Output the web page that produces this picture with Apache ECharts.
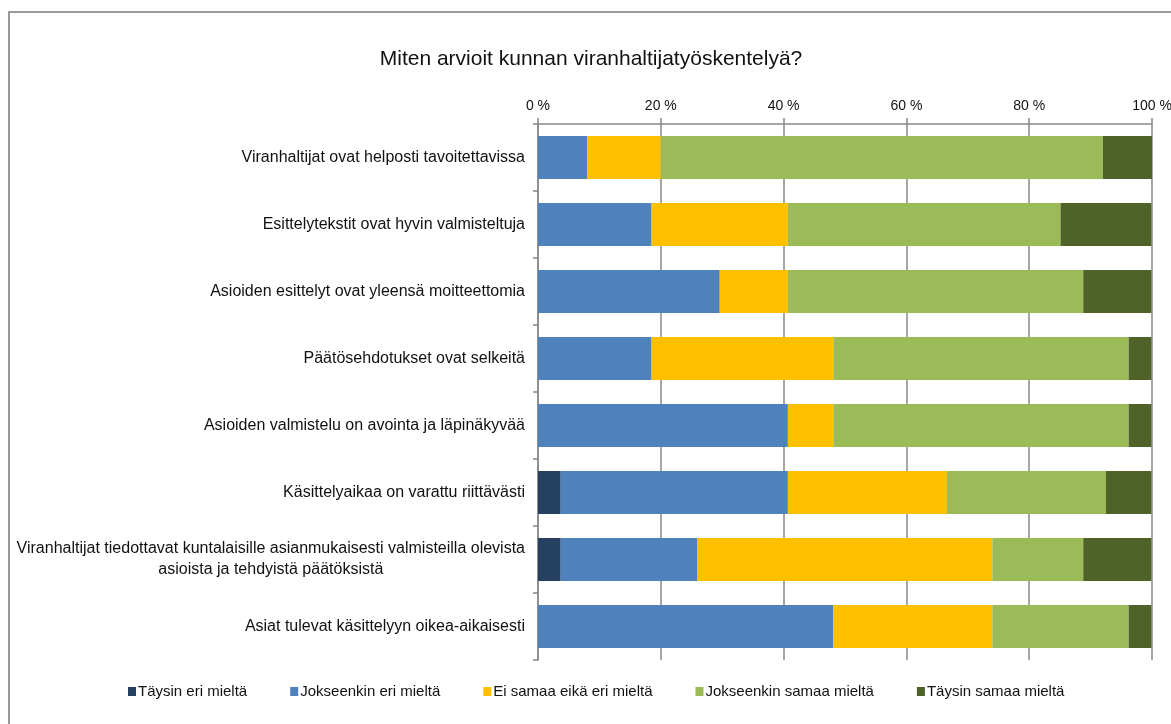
<!DOCTYPE html>
<html>
<head>
<meta charset="utf-8">
<script src="https://cdn.jsdelivr.net/npm/echarts@6/dist/echarts.min.js"></script>
<style>
  html, body { margin: 0; padding: 0; background: #fff; overflow: hidden; width: 1171px; height: 724px; }
  #frame {
    position: absolute; left: 8px; top: 11px; right: -20px; bottom: -20px;
    border: 2px solid #9a9a9a; box-sizing: border-box;
  }
  #chart { position: absolute; left: 0; top: 0; width: 1171px; height: 724px; }
</style>
</head>
<body>
<div id="frame"></div>
<div id="chart"></div>
<script>
// kysymykset (ylhäältä alas)
const categories = [
  "Viranhaltijat ovat helposti tavoitettavissa",
  "Esittelytekstit ovat hyvin valmisteltuja",
  "Asioiden esittelyt ovat yleensä moitteettomia",
  "Päätösehdotukset ovat selkeitä",
  "Asioiden valmistelu on avointa ja läpinäkyvää",
  "Käsittelyaikaa on varattu riittävästi",
  "Viranhaltijat tiedottavat kuntalaisille asianmukaisesti valmisteilla olevista\nasioista ja tehdyistä päätöksistä",
  "Asiat tulevat käsittelyyn oikea-aikaisesti"
];
const seriesNames = [
  "Täysin eri mieltä",
  "Jokseenkin eri mieltä",
  "Ei samaa eikä eri mieltä",
  "Jokseenkin samaa mieltä",
  "Täysin samaa mieltä"
];
// prosenttiosuudet
const taysinEri     = [0, 0, 0, 0, 0, 3.7, 3.7, 0];
const jokseenkinEri = [8, 18.5, 29.6, 18.5, 40.7, 37.0, 22.2, 48.1];
const eiSamaaEiEri  = [12, 22.2, 11.1, 29.6, 7.4, 25.9, 48.1, 25.9];
const jokseenkinSam = [72, 44.4, 48.1, 48.1, 48.1, 25.9, 14.8, 22.2];
const taysinSamaa   = [8, 14.8, 11.1, 3.7, 3.7, 7.4, 11.1, 3.7];
const xTicks = [0, 20, 40, 60, 80, 100];

const colors = ["#254061", "#4F81BD", "#FFC000", "#9BBB59", "#4F6228"];
const values = [taysinEri, jokseenkinEri, eiSamaaEiEri, jokseenkinSam, taysinSamaa];
const font = "'Liberation Sans Narrow', 'Liberation Sans', sans-serif";

let chart = echarts.init(document.getElementById("chart"));
chart.setOption({
  animation: false,
  textStyle: { fontFamily: font },
  title: {
    text: "Miten arvioit kunnan viranhaltijatyöskentelyä?",
    left: 586, top: 44, textAlign: "center",
    textStyle: { fontFamily: font, fontSize: 21, fontWeight: "normal", color: "#111" }
  },
  grid: { left: 538, right: 19, top: 124, bottom: 64, outerBoundsMode: "none", containLabel: false },
  xAxis: {
    type: "value", position: "top",
    min: xTicks[0], max: xTicks[xTicks.length - 1], interval: 20,
    axisLine: { show: true, lineStyle: { color: "#888", width: 1.5 } },
    axisTick: { show: true, length: 6, lineStyle: { color: "#888", width: 1.5 } },
    splitLine: { show: true, lineStyle: { color: "#888", width: 1.5 } },
    axisLabel: { formatter: "{value} %", fontSize: 14, color: "#111", margin: 11, fontFamily: font }
  },
  yAxis: {
    type: "category", inverse: true, data: categories,
    axisLine: { show: true, lineStyle: { color: "#888", width: 1.5 } },
    axisTick: { show: true, length: 5, alignWithLabel: false, lineStyle: { color: "#888", width: 1.5 } },
    axisLabel: {
      fontSize: 16, color: "#111", margin: 13, fontFamily: font,
      formatter: function (v) {
        return v.split("\n").map(s => "{c|" + s + "}").join("\n");
      },
      rich: { c: { align: "center", fontSize: 16, color: "#111", fontFamily: font, lineHeight: 21 } }
    }
  },
  legend: {
    bottom: 20, left: 123,
    itemWidth: 8, itemHeight: 9, itemGap: 43,
    icon: "rect",
    textStyle: { fontSize: 15, color: "#111", fontFamily: font, padding: [0, 0, 0, -3] },
    data: seriesNames
  },
  series: seriesNames.map((name, i) => ({
    name: name, type: "bar", stack: "total",
    barWidth: 43,
    itemStyle: { color: colors[i] },
    data: values[i]
  }))
});
</script>
</body>
</html>
